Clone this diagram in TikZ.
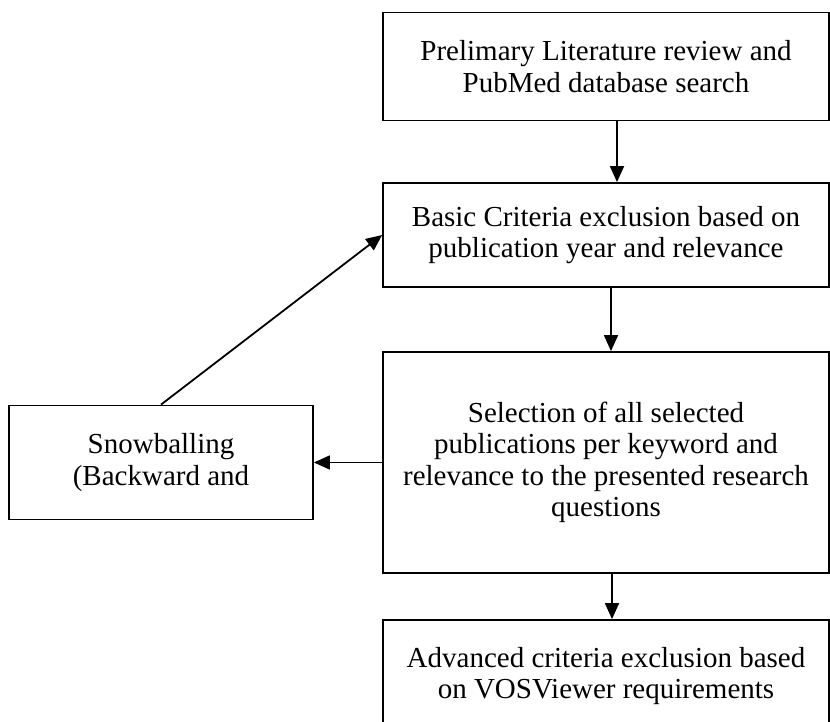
\documentclass[tikz,border=0pt]{standalone}
\usepackage{fontspec}
\setmainfont{Liberation Serif}
\usetikzlibrary{arrows.meta}
\begin{document}
\begin{tikzpicture}[x=1pt,y=-1pt,
  flowbox/.style={draw=black, line width=1.8pt, rectangle, align=center, inner sep=0pt,
    font=\fontsize{29}{31.5}\selectfont, text=black},
  arr/.style={line width=1.8pt, -{Triangle[length=16pt,width=14pt]}}]
\useasboundingbox (0,0) rectangle (830,722);
\node[flowbox, minimum width=446pt, minimum height=108pt] (b1) at (606,66.5)
  {Prelimary Literature review and\\PubMed database search};
\node[flowbox, minimum width=446pt, minimum height=104pt] (b2) at (606,235)
  {Basic Criteria exclusion based on\\publication year and relevance};
\node[flowbox, minimum width=446pt, minimum height=221pt] (b3) at (606,462.5)
  {Selection of all selected\\publications per keyword and\\relevance to the presented research\\questions};
\node[flowbox, minimum width=304pt, minimum height=114pt] (snow) at (161,462.5)
  {Snowballing\\(Backward and};
\node[flowbox, minimum width=446pt, minimum height=112pt] (b5) at (606,676)
  {Advanced criteria exclusion based\\on VOSViewer requirements};
\draw[arr] ([xshift=11pt]b1.south) -- ([xshift=11pt]b2.north);
\draw[arr] ([xshift=5pt]b2.south) -- ([xshift=5pt]b3.north);
\draw[arr] ([xshift=6pt]b3.south) -- ([xshift=6pt]b5.north);
\draw[arr] (b3.west) -- (snow.east);
\draw[arr] (snow.north) -- (b2.west);
\end{tikzpicture}
\end{document}
